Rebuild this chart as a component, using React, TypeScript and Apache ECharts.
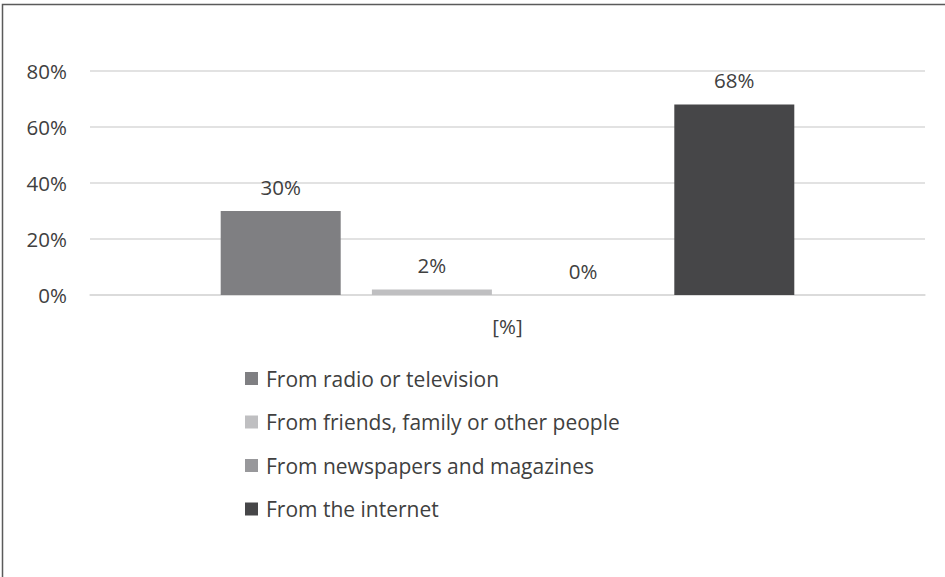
import React, { useEffect, useRef } from "react";
import * as echarts from "echarts";

const categories = ["[%]"];
const seriesNames = [
  "From radio or television",
  "From friends, family or other people",
  "From newspapers and magazines",
  "From the internet",
];
const seriesValues = [30, 2, 0, 68];
const seriesColors = ["#7f7f82", "#bfbfc1", "#98989b", "#464648"];
const yTicks = [0, 20, 40, 60, 80];

export default function App() {
  const ref = useRef<HTMLDivElement>(null);
  useEffect(() => {
    if (!ref.current) return;
    const chart = echarts.init(ref.current, null, { renderer: "svg" });
    const font = "'Open Sans', 'Liberation Sans', sans-serif";
    const fs = 20.5;
    chart.setOption({
      animation: false,
      textStyle: { fontFamily: font },
      graphic: [
        {
          type: "rect",
          shape: { x: 2.5, y: 4.5, width: 1000, height: 700 },
          style: { fill: "none", stroke: "#5a5a5a", lineWidth: 1.5 },
          silent: true,
        },
      ],
      grid: { left: 90, right: 20, top: 71, bottom: 282, containLabel: false },
      legend: {
        orient: "vertical",
        left: 240,
        top: 363,
        itemWidth: 13,
        itemHeight: 13,
        itemGap: 22.5,
        icon: "rect",
        textStyle: { fontSize: 21, color: "#404040", fontFamily: font, padding: [0, 0, 0, 3] },
        data: seriesNames,
      },
      xAxis: {
        type: "category",
        data: categories,
        axisLine: { lineStyle: { color: "#d9d9d9", width: 1.5 } },
        axisTick: { show: false },
        axisLabel: { fontSize: fs, color: "#404040", margin: 20 },
      },
      yAxis: {
        type: "value",
        min: yTicks[0],
        max: yTicks[yTicks.length - 1],
        interval: 20,
        axisLine: { show: false },
        axisTick: { show: false },
        splitLine: { lineStyle: { color: "#d9d9d9", width: 1.5 } },
        axisLabel: {
          fontSize: fs,
          color: "#404040",
          margin: 23,
          formatter: (v: number) => v + "%",
        },
      },
      series: seriesNames.map((name, i) => ({
        name,
        type: "bar",
        data: [seriesValues[i]],
        barWidth: 120,
        barGap: "26%",
        itemStyle: { color: seriesColors[i] },
        label: {
          show: true,
          position: "top",
          distance: 14,
          fontSize: fs,
          color: "#404040",
          formatter: (p: any) => p.value + "%",
        },
      })),
    });
    return () => chart.dispose();
  }, []);
  return (
    <div
      ref={ref}
      style={{ position: "fixed", left: 0, top: 0, width: 945, height: 577, background: "#fff" }}
    />
  );
}
